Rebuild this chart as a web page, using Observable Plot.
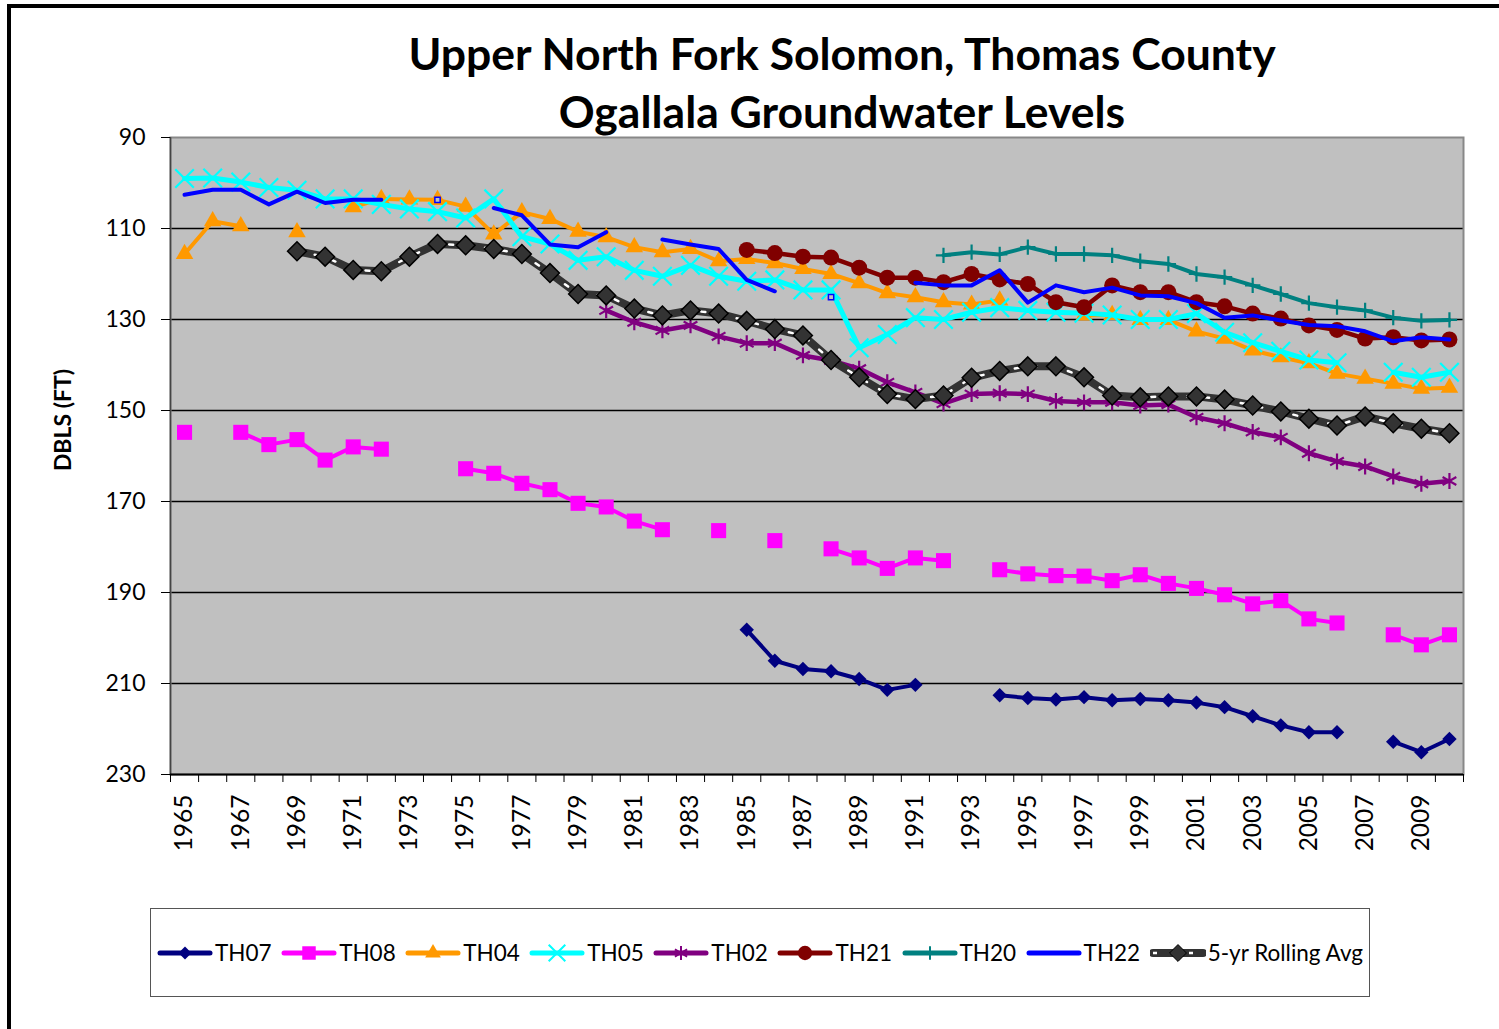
<!DOCTYPE html>
<html>
<head>
<meta charset="utf-8">
<script src="https://cdn.jsdelivr.net/npm/d3@7"></script>
<script src="https://cdn.jsdelivr.net/npm/@observablehq/plot@0.6"></script>
<style>
  html, body { margin: 0; padding: 0; background: #fff; }
  #wrap { position: relative; width: 1499px; height: 1029px; overflow: hidden; font-family: Lato, "Open Sans", sans-serif; }
  #outer { position: absolute; left: 7px; top: 4px; width: 1600px; height: 1100px; border-left: 4px solid #000; border-top: 4px solid #000; box-sizing: border-box; }
  #chart { position: absolute; left: 0; top: 0; }
  #title { position: absolute; left: 292px; width: 1100px; top: 24px; text-align: center; font-weight: bold; font-size: 44.5px; line-height: 58px; color: #000; }
  #ylabel { position: absolute; left: 62px; top: 420px; transform: translate(-50%, -50%) rotate(-90deg); font-weight: bold; font-size: 23px; white-space: nowrap; }
  #legend { position: absolute; left: 150px; top: 908px; width: 1220px; height: 89px; border: 1px solid #555; box-sizing: border-box; display: flex; align-items: center; justify-content: center; gap: 9.5px; background: #fff; }
  .item { display: flex; align-items: center; font-size: 22.5px; color: #000; }
  .item svg { margin-right: 2px; }
</style>
</head>
<body>
<div id="wrap">
  <div id="outer"></div>
  <div id="chart"></div>
  <div id="title">Upper North Fork Solomon, Thomas County<br>Ogallala Groundwater Levels</div>
  <div id="ylabel">DBLS (FT)</div>
  <div id="legend"></div>
</div>
<script>
// ---- Data (depth below land surface, ft) ----
const years = d3.range(1965, 2011);
const yTicks = [90, 110, 130, 150, 170, 190, 210, 230];
const xTickLabels = d3.range(1965, 2010, 2);

const TH07 = [null,null,null,null,null,null,null,null,null,null,
  null,null,null,null,null,null,null,null,null,null,
  198.2,205.0,206.8,207.3,209.0,211.4,210.3,null,null,212.6,
  213.2,213.5,213.0,213.7,213.4,213.7,214.2,215.2,217.2,219.2,
  220.7,220.7,null,222.8,225.1,222.2];
const TH08 = [154.8,null,154.8,157.5,156.4,160.9,158.0,158.5,null,null,
  162.8,163.8,166.0,167.4,170.4,171.2,174.3,176.2,null,176.4,
  null,178.6,null,180.4,182.4,184.7,182.4,183.0,null,185.0,
  185.9,186.3,186.4,187.4,186.1,188.0,189.1,190.5,192.5,191.8,
  195.8,196.7,null,199.3,201.5,199.3];
const TH04 = [115.6,108.4,109.5,null,110.8,null,105.3,103.5,103.6,103.7,
  105.2,111.3,106.4,107.9,110.7,111.9,114.1,115.2,114.5,117.2,
  116.7,117.6,118.9,120.0,122.0,124.2,125.1,126.2,126.7,125.8,
  null,null,129.1,129.0,130.1,130.1,132.6,134.2,136.8,138.3,
  139.6,141.9,143.0,144.1,145.2,145.0];
const TH05 = [99.0,98.9,99.8,101.0,101.6,103.5,103.5,104.7,105.7,106.3,
  107.7,103.5,111.8,113.4,117.0,116.2,119.2,120.5,118.1,120.5,
  121.6,121.3,123.5,123.5,136.2,133.3,129.6,130.0,128.4,127.4,
  128.0,128.4,128.6,129.0,130.0,130.0,128.7,132.8,135.1,137.0,
  138.9,139.5,null,141.6,142.7,141.6];
const TH02 = [null,null,null,null,null,null,null,null,null,null,
  null,null,null,null,null,128.0,130.6,132.4,131.3,133.7,
  135.2,135.2,137.9,139.0,140.8,143.8,146.0,148.5,146.4,146.2,
  146.4,147.9,148.2,148.2,148.9,148.7,151.5,152.8,154.7,155.9,
  159.4,161.2,162.3,164.5,166.1,165.5];
const TH21 = [null,null,null,null,null,null,null,null,null,null,
  null,null,null,null,null,null,null,null,null,null,
  114.7,115.4,116.2,116.4,118.6,120.8,120.8,121.8,120.0,121.2,
  122.2,126.2,127.3,122.5,124.0,124.0,126.2,127.1,128.7,129.8,
  131.3,132.3,134.2,133.9,134.6,134.4];
const TH20 = [null,null,null,null,null,null,null,null,null,null,
  null,null,null,null,null,null,null,null,null,null,
  null,null,null,null,null,null,null,115.9,115.2,115.7,
  114.1,115.6,115.6,115.9,117.2,117.8,120.0,120.7,122.5,124.4,
  126.4,127.3,128.0,129.6,130.3,130.1];
const TH22 = [102.6,101.5,101.5,104.7,101.9,104.4,103.7,103.7,null,103.7,
  null,105.5,107.1,113.5,114.1,110.8,null,112.4,113.5,114.5,
  121.3,123.8,null,125.1,null,null,121.9,122.5,122.5,119.2,
  126.3,122.5,124.0,123.0,124.7,124.9,126.4,129.6,129.1,130.2,
  131.2,131.5,132.6,134.8,133.9,134.4];
const ROLL5 = [null,null,null,null,115.0,116.2,119.1,119.4,116.2,113.4,
  113.7,114.5,115.6,119.8,124.4,124.7,127.6,129.1,128.0,128.7,
  130.3,132.1,133.5,138.9,142.7,146.4,147.5,146.7,142.8,141.3,
  140.3,140.3,142.7,146.7,147.1,146.9,146.9,147.6,148.9,150.2,
  151.8,153.3,151.3,152.8,154.0,155.0];

const seriesNames = ["TH07","TH08","TH04","TH05","TH02","TH21","TH20","TH22","5-yr Rolling Avg"];
const seriesValues = [TH07, TH08, TH04, TH05, TH02, TH21, TH20, TH22, ROLL5];

// ---- Styles ----
const styles = {
  "TH07": {color: "#000080", width: 4, symbol: "diamond2", r: 6.5, fill: true},
  "TH08": {color: "#FF00FF", width: 4, symbol: "square", r: 8.5, fill: true},
  "TH04": {color: "#FF9900", width: 4, symbol: "triangle", r: 6.5, fill: true},
  "TH05": {color: "#00FFFF", width: 5, symbol: "times", r: 8.5, fill: false},
  "TH02": {color: "#800080", width: 4.5, symbol: "asterisk", r: 7.5, fill: false},
  "TH21": {color: "#800000", width: 4.5, symbol: "circle", r: 8, fill: true},
  "TH20": {color: "#008080", width: 4, symbol: "plus", r: 5, fill: false},
  "TH22": {color: "#0000FF", width: 4, symbol: null},
  "5-yr Rolling Avg": {color: "#333333", width: 8, symbol: "diamond2", r: 8.5, fill: true, roll: true}
};

const series = seriesNames.map((name, k) => ({
  name,
  data: years.map((year, i) => ({year, value: seriesValues[k][i]}))
}));

const marks = [
  Plot.frame({fill: "#C0C0C0"}),
  Plot.ruleY(yTicks.slice(1, -1), {stroke: "#000", strokeWidth: 1.3}),
];

for (const s of series) {
  const st = styles[s.name];
  const defined = s.data.filter(d => d.value != null);
  marks.push(Plot.line(s.data, {x: "year", y: "value", stroke: st.color, strokeWidth: st.width, strokeLinejoin: "round", strokeLinecap: "round"}));
  if (st.roll) {
    marks.push(Plot.line(s.data, {x: "year", y: "value", stroke: "#fff", strokeWidth: 2.5, strokeDasharray: "4,14"}));
  }
  if (st.symbol) {
    if (st.fill) {
      marks.push(Plot.dot(defined, {x: "year", y: "value", symbol: st.symbol, r: st.r, fill: st.color,
        stroke: st.roll ? "#000" : "none", strokeWidth: st.roll ? 1.5 : 0}));
    } else {
      marks.push(Plot.dot(defined, {x: "year", y: "value", symbol: st.symbol, r: st.r, fill: "none", stroke: st.color, strokeWidth: 2.2}));
    }
  } else {
    // isolated points of a line without markers
    const iso = s.data.filter((d, i) => d.value != null &&
      (i === 0 || s.data[i - 1].value == null) && (i === s.data.length - 1 || s.data[i + 1].value == null));
    marks.push(Plot.dot(iso, {x: "year", y: "value", symbol: "square", r: 3, fill: "#C0C0C0", stroke: st.color, strokeWidth: 1.5}));
  }
}

marks.push(
  Plot.frame({stroke: "#888", strokeWidth: 2}),
  Plot.ruleX([1964.5], {stroke: "#444", strokeWidth: 1.5}),
  Plot.ruleY([230], {stroke: "#000", strokeWidth: 2}),
  Plot.axisY({ticks: yTicks, tickSize: 9, tickPadding: 16, fontSize: 23, label: null, tickFormat: d => `${d}`}),
  Plot.axisX({ticks: d3.range(1964.5, 2011, 1), tickSize: 8, tickFormat: () => "", label: null, stroke: "#000"}),
  Plot.axisX({ticks: xTickLabels, tickSize: 0, tickPadding: 20, tickRotate: -90, fontSize: 24.5, label: null, tickFormat: d => `${d}`})
);

const chart = Plot.plot({
  width: 1499,
  height: 1029,
  marginLeft: 170,
  marginRight: 36,
  marginTop: 137,
  marginBottom: 255,
  style: {background: "transparent", fontFamily: "Lato, 'Open Sans', sans-serif", color: "#000"},
  x: {domain: [1964.5, 2010.5]},
  y: {domain: [90, 230], reverse: true},
  marks
});
document.getElementById("chart").appendChild(chart);

// ---- Legend ----
const legend = d3.select("#legend");
const symMap = {diamond2: d3.symbolDiamond2, square: d3.symbolSquare, triangle: d3.symbolTriangle,
  times: d3.symbolTimes, asterisk: d3.symbolAsterisk, circle: d3.symbolCircle, plus: d3.symbolPlus};
for (const name of seriesNames) {
  const st = styles[name];
  const item = legend.append("div").attr("class", "item");
  const svg = item.append("svg").attr("width", 56).attr("height", 26);
  svg.append("line").attr("x1", 3).attr("x2", 53).attr("y1", 13).attr("y2", 13)
    .attr("stroke", st.color).attr("stroke-width", Math.max(5, st.width)).attr("stroke-linecap", "round");
  if (st.roll) {
    svg.append("line").attr("x1", 3).attr("x2", 53).attr("y1", 13).attr("y2", 13)
      .attr("stroke", "#fff").attr("stroke-width", 2.5).attr("stroke-dasharray", "4,14");
  }
  if (st.symbol) {
    const size = Math.PI * st.r * st.r * 0.8;
    const p = svg.append("path").attr("transform", "translate(28,13)")
      .attr("d", d3.symbol(symMap[st.symbol], size)());
    if (st.fill) p.attr("fill", st.color).attr("stroke", st.roll ? "#000" : "none");
    else p.attr("fill", "none").attr("stroke", st.color).attr("stroke-width", 2);
  }
  item.append("span").text(name);
}
</script>
</body>
</html>
